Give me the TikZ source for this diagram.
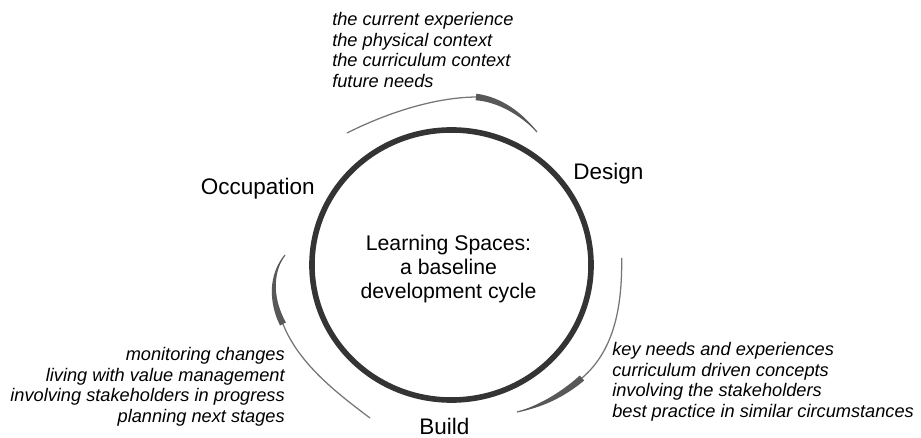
\documentclass[tikz,border=0pt]{standalone}
\usepackage{fontspec}
\setmainfont{Liberation Sans}
\usetikzlibrary{positioning, shapes.geometric, calc}
\definecolor{ringgray}{RGB}{52,52,52}
\definecolor{linegray}{RGB}{118,118,118}
\definecolor{tipgray}{RGB}{88,88,88}
% tapering head of an arc: start, two controls, end
\newcommand\arctaper[4]{\fill[tipgray] ($#1!0.0825cm!90:#2$) .. controls ($#2!0.074cm!90:#3$) and ($#3!0.045cm!90:#4$) .. #4 .. controls ($#3!0.045cm!-90:#4$) and ($#2!0.074cm!-90:#3$) .. ($#1!0.0825cm!-90:#2$) -- cycle;}

\begin{document}
\begin{tikzpicture}[x=0.025cm,y=-0.025cm,
    stage/.style={font=\fontsize{16}{19}\selectfont,inner sep=0pt},
    notes/.style={font=\fontsize{12.95}{14.7}\selectfont\itshape,inner sep=0pt},
    cyclearc/.style={draw=linegray,line width=0.9pt}]
    \useasboundingbox (0,0) rectangle (921,438);
    \node[ellipse,draw=ringgray,line width=0.14cm,minimum width=6.975cm,minimum height=6.75cm,inner sep=0pt] (ring) at (451.5,265) {};
    \node[align=center,anchor=north,inner sep=0pt,font=\fontsize{15.1}{17.1}\selectfont] (title) at (448.5,235) {Learning Spaces:\\a baseline\\development cycle};
    % stages
    \node[stage,anchor=base west] (design) at (573,180) {Design};
    \node[stage,anchor=base west] (build) at (419,435) {Build};
    \node[stage,anchor=base east] (occupation) at (315,195) {Occupation};
    % what goes into each stage
    \node[notes,align=left,anchor=north west] (designnotes) at (332,12) {the current experience\\the physical context\\the curriculum context\\future needs};
    \node[notes,align=left,anchor=north west] (buildnotes) at (612,342) {key needs and experiences\\curriculum driven concepts\\involving the stakeholders\\best practice in similar circumstances};
    \node[notes,align=right,anchor=north east] (occupationnotes) at (285,347) {monitoring changes\\living with value management\\involving stakeholders in progress\\planning next stages};
    % arcs round the ring
    \draw[cyclearc] (347,133) .. controls (385.4,113.7) and (433,97.5) .. (476,97) .. controls (499.4,99.3) and (521.7,114.1) .. (537,132);
    \draw[cyclearc] (621.7,258) .. controls (622,300) and (617,348) .. (582,378) .. controls (563.5,394.1) and (540.9,406.5) .. (517,412);
    \draw[cyclearc] (370,418) .. controls (338,394) and (298.7,364) .. (283,324) .. controls (271.5,302.6) and (269.5,274.6) .. (285,255);
    \arctaper{(476,97)}{(499.4,99.3)}{(521.7,114.1)}{(537,132)}
    \arctaper{(582,378)}{(563.5,394.1)}{(540.9,406.5)}{(517,412)}
    \arctaper{(283,324)}{(271.5,302.6)}{(269.5,274.6)}{(285,255)}
\end{tikzpicture}
\end{document}
